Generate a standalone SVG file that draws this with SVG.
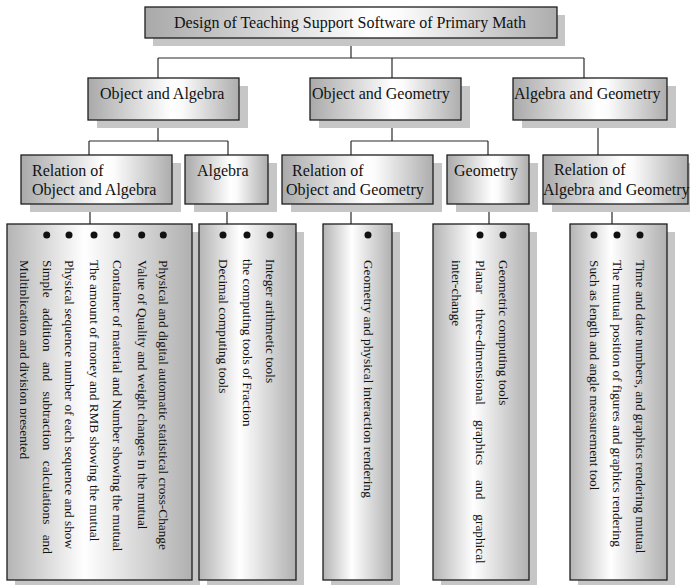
<svg xmlns="http://www.w3.org/2000/svg" width="690" height="585" viewBox="0 0 690 585">
<defs>
<linearGradient id="g" x1="0" y1="0" x2="1" y2="0">
<stop offset="0" stop-color="#a9a9a9"/>
<stop offset="0.55" stop-color="#ffffff"/>
<stop offset="0.62" stop-color="#fbfbfb"/>
<stop offset="1" stop-color="#adadad"/>
</linearGradient>
<linearGradient id="gv" x1="0" y1="0" x2="1" y2="0">
<stop offset="0" stop-color="#b4b4b4"/>
<stop offset="0.42" stop-color="#ffffff"/>
<stop offset="1" stop-color="#b0b0b0"/>
</linearGradient>
<clipPath id="clip7"><rect x="20" y="224" width="180" height="356"/></clipPath>
</defs>
<style>
.sh{fill:#c6c6c6}
.box{fill:url(#g);stroke:#1e1e1e;stroke-width:1.3}
.col{fill:url(#gv);stroke:#1e1e1e;stroke-width:1.3}
.t{font-family:"Liberation Serif","Times New Roman",serif;font-size:16px;fill:#111}
.v{font-family:"Liberation Serif","Times New Roman",serif;font-size:13.3px;fill:#111}
.c{stroke:#2a2a2a;stroke-width:1.2;fill:none}
.b{fill:#111}
</style>

<g id="connectors">
<path class="c" d="M351,38V58M158,58H584M158,58V78M392,58V78M584,58V78"/>
<path class="c" d="M158,120V141M89,141H228M89,141V155M228,141V155"/>
<path class="c" d="M392,120V141M351,141H488M351,141V155M488,141V155"/>
<path class="c" d="M598,120V155"/>
<path class="c" d="M90,204V224M227,204V224M351,204V224M489,204V224M612,204V224"/>
</g>

<g id="title">
<rect class="sh" x="153" y="15" width="412" height="31"/>
<rect class="box" x="145" y="7" width="412" height="31"/>
<text class="t" x="350" y="28" text-anchor="middle">Design of Teaching Support Software of Primary Math</text>
</g>

<g id="object-algebra">
<rect class="sh" x="97" y="86" width="151" height="42"/>
<rect class="box" x="88" y="78" width="151" height="42"/>
<text class="t" x="100" y="99">Object and Algebra</text>
</g>
<g id="object-geometry">
<rect class="sh" x="319" y="86" width="151" height="42"/>
<rect class="box" x="310" y="78" width="151" height="42"/>
<text class="t" x="312" y="99">Object and Geometry</text>
</g>
<g id="algebra-geometry">
<rect class="sh" x="522" y="86" width="154" height="42"/>
<rect class="box" x="513" y="78" width="154" height="42"/>
<text class="t" x="514" y="99">Algebra and Geometry</text>
</g>

<g id="relation-oa">
<rect class="sh" x="30" y="163" width="151" height="49"/>
<rect class="box" x="21" y="155" width="151" height="49"/>
<text class="t" x="32" y="176">Relation of</text>
<text class="t" x="32" y="195">Object and Algebra</text>
</g>
<g id="algebra">
<rect class="sh" x="194" y="163" width="83" height="49"/>
<rect class="box" x="185" y="155" width="83" height="49"/>
<text class="t" x="197" y="176">Algebra</text>
</g>
<g id="relation-og">
<rect class="sh" x="291" y="163" width="151" height="49"/>
<rect class="box" x="282" y="155" width="151" height="49"/>
<text class="t" x="292" y="176">Relation of</text>
<text class="t" x="286" y="195">Object and Geometry</text>
</g>
<g id="geometry">
<rect class="sh" x="456" y="163" width="82" height="49"/>
<rect class="box" x="447" y="155" width="82" height="49"/>
<text class="t" x="454" y="176">Geometry</text>
</g>
<g id="relation-ag">
<rect class="sh" x="552" y="163" width="145" height="49"/>
<rect class="box" x="543" y="155" width="145" height="49"/>
<text class="t" x="554" y="175">Relation of</text>
<text class="t" x="543" y="195">Algebra and Geometry</text>
</g>

<g id="list-oa">
<rect class="sh" x="15" y="232" width="185" height="356"/>
<rect class="col" x="7" y="224" width="185" height="356"/>
<circle class="b" cx="163.3" cy="235" r="3.5"/>
<circle class="b" cx="141.7" cy="235" r="3.5"/>
<circle class="b" cx="116.7" cy="235" r="3.5"/>
<circle class="b" cx="94" cy="235" r="3.5"/>
<circle class="b" cx="69" cy="235" r="3.5"/>
<circle class="b" cx="46.7" cy="235" r="3.5"/>
<text class="v" transform="translate(159.3,260) rotate(90)">Physical and digital automatic statistical cross-Change</text>
<text class="v" transform="translate(137.7,260) rotate(90)">Value of Quality and weight changes in the mutual</text>
<text class="v" transform="translate(112.7,260) rotate(90)">Container of material and Number showing the mutual</text>
<text class="v" transform="translate(90,260) rotate(90)">The amount of money and RMB showing the mutual</text>
<text class="v" transform="translate(65,260) rotate(90)">Physical sequence number of each sequence and show</text>
<text class="v" transform="translate(42.7,260) rotate(90)" word-spacing="7">Simple addition and subtraction calculations and</text>
<g clip-path="url(#clip7)">
<text class="v" transform="translate(20.3,260) rotate(90)">Multiplication and division presented</text>
</g>
</g>

<g id="list-algebra">
<rect class="sh" x="207" y="232" width="97" height="356"/>
<rect class="col" x="199" y="224" width="97" height="356"/>
<circle class="b" cx="223" cy="235" r="3.5"/>
<circle class="b" cx="247" cy="235" r="3.5"/>
<circle class="b" cx="270" cy="235" r="3.5"/>
<text class="v" transform="translate(266,259) rotate(90)">Integer arithmetic tools</text>
<text class="v" transform="translate(243,259) rotate(90)">the computing tools of Fraction</text>
<text class="v" transform="translate(219,259) rotate(90)">Decimal computing tools</text>
</g>

<g id="list-og">
<rect class="sh" x="331" y="232" width="69" height="356"/>
<rect class="col" x="323" y="224" width="69" height="356"/>
<circle class="b" cx="368" cy="235" r="3.5"/>
<text class="v" transform="translate(363.5,260) rotate(90)">Geometry and physical interaction rendering</text>
</g>

<g id="list-geometry">
<rect class="sh" x="441" y="232" width="96" height="356"/>
<rect class="col" x="433" y="224" width="96" height="356"/>
<circle class="b" cx="480" cy="235" r="3.5"/>
<circle class="b" cx="503" cy="235" r="3.5"/>
<text class="v" transform="translate(498.5,260) rotate(90)">Geometric computing tools</text>
<text class="v" transform="translate(475.5,260) rotate(90)" word-spacing="11.7">Planar three-dimensional graphics and graphical</text>
<text class="v" transform="translate(452,260) rotate(90)">inter-change</text>
</g>

<g id="list-ag">
<rect class="sh" x="578" y="232" width="97" height="356"/>
<rect class="col" x="570" y="224" width="97" height="356"/>
<circle class="b" cx="594" cy="235" r="3.5"/>
<circle class="b" cx="617" cy="235" r="3.5"/>
<circle class="b" cx="640" cy="235" r="3.5"/>
<text class="v" transform="translate(635.5,260) rotate(90)">Time and date numbers, and graphics rendering mutual</text>
<text class="v" transform="translate(612.5,260) rotate(90)">The mutual position of figures and graphics rendering</text>
<text class="v" transform="translate(589.5,260) rotate(90)">Such as length and angle measurement tool</text>
</g>
</svg>
